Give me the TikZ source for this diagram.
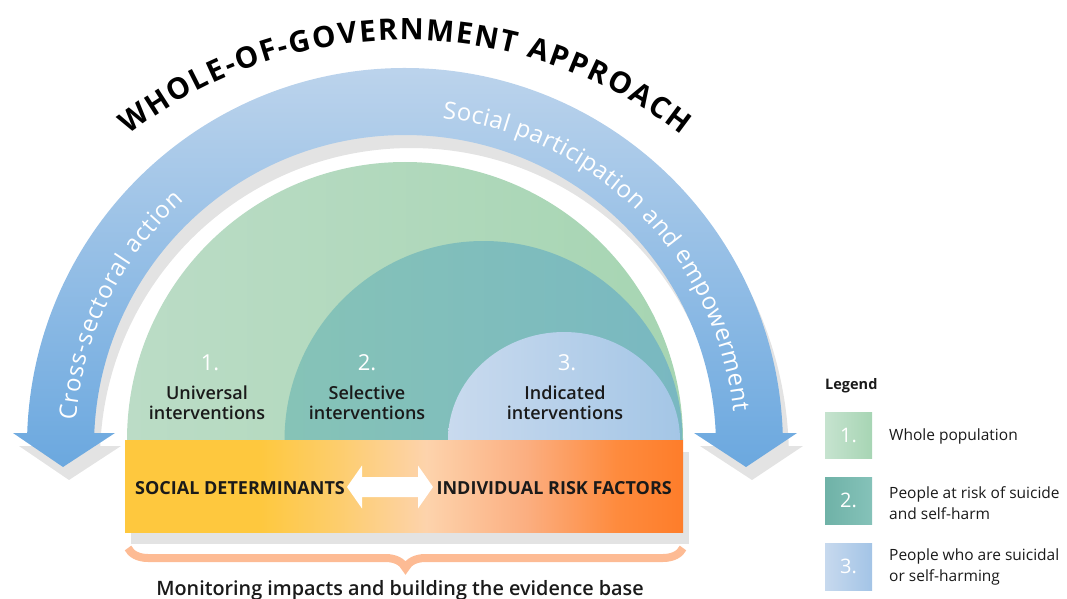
\documentclass[tikz,border=0pt]{standalone}
\usepackage{fontspec}
\setmainfont{Open Sans}
\IfFontExistsTF{Open Sans SemiBold}{\newfontfamily\semib{Open Sans SemiBold}}{%
  \IfFontExistsTF{Open Sans Semibold}{\newfontfamily\semib{Open Sans Semibold}}{%
    \newfontfamily\semib{Open Sans}[FakeBold=1.2]}}
\usetikzlibrary{decorations.text,decorations.pathreplacing,shadings}

\definecolor{bandtop}{HTML}{BDD4EC}
\definecolor{bandbot}{HTML}{6BA8DF}
\definecolor{shadowgray}{HTML}{E3E3E3}
\definecolor{greenL}{HTML}{BBDCC6}
\definecolor{greenR}{HTML}{A6D5B2}
\definecolor{tealL}{HTML}{86C3B7}
\definecolor{tealR}{HTML}{79B8C1}
\definecolor{blueL}{HTML}{C9DAEE}
\definecolor{blueR}{HTML}{A4C6E6}
\definecolor{barY}{HTML}{FEC83E}
\definecolor{barYb}{HTML}{FDCD6C}
\definecolor{barP}{HTML}{FDD3AC}
\definecolor{barOa}{HTML}{FBAE80}
\definecolor{barOb}{HTML}{FE8B3E}
\definecolor{barOc}{HTML}{FE7D2A}
\definecolor{bracecol}{HTML}{FDBB94}
\definecolor{boxAL}{HTML}{C6E3CF}
\definecolor{boxAR}{HTML}{A7D5B4}
\definecolor{boxBL}{HTML}{6FB2A7}
\definecolor{boxBR}{HTML}{85C2B9}
\definecolor{boxCL}{HTML}{C7D9EE}
\definecolor{boxCR}{HTML}{A3C4E6}
\definecolor{txt}{HTML}{1A1A1A}

\pgfdeclarehorizontalshading{barshade}{100bp}{color(0bp)=(barY); color(25bp)=(barY); color(37bp)=(barY); color(44bp)=(barYb); color(52bp)=(barP); color(61bp)=(barOa); color(69bp)=(barOb); color(75bp)=(barOc); color(100bp)=(barOc)}

\newcommand\titlefont{\bfseries\fontsize{29.5}{32}\selectfont}
\newcommand\bandfont{\fontsize{24}{28}\selectfont}

\tikzset{
  numlbl/.style={text=white, font=\fontsize{22}{24}\selectfont, inner sep=0pt},
  domelbl/.style={text=txt, font=\semib\fontsize{18}{20}\selectfont, align=center, inner sep=0pt},
  barlbl/.style={text=txt, font=\bfseries\fontsize{18}{20}\selectfont, inner sep=0pt},
  legnum/.style={text=white, font=\fontsize{20}{22}\selectfont, inner sep=0pt},
  legtxt/.style={text=txt, font=\fontsize{15.5}{21}\selectfont, align=left, anchor=west, inner sep=0pt},
}

\begin{document}
\begin{tikzpicture}[x=1pt,y=1pt]
\useasboundingbox (0,0) rectangle (1067,598);

% band shadow
\fill[shadowgray, shift={(6,-13)}] (63,131) -- (13,165) -- (27.2,165)
  arc[start angle=178.03, end angle=1.97, radius=378pt] -- (797,165) -- (746,131) -- (694,165) -- (715.7,165)
  arc[start angle=2.4, end angle=177.6, radius=311pt] -- (115,165) -- cycle;
% band
\shade[top color=bandtop, bottom color=bandbot] (63,131) -- (13,165) -- (27.2,165)
  arc[start angle=178.03, end angle=1.97, radius=378pt] -- (797,165) -- (746,131) -- (694,165) -- (715.7,165)
  arc[start angle=2.4, end angle=177.6, radius=311pt] -- (115,165) -- cycle;

% title
\path[decorate, decoration={text along path, text align=fit to path,
  text={|\titlefont|WHOLE-OF-GOVERNMENT APPROACH}}]
  ([shift={(128:449pt)}]405,109) arc[start angle=128, end angle=52, radius=449pt];

% band texts
\path[decorate, decoration={text along path, text align=fit to path, text color=white,
  text={|\bandfont|Cross-sectoral action}}]
  ([shift={(175.5:330pt)}]405,152) arc[start angle=175.5, end angle=132, radius=330pt];
\path[decorate, decoration={text along path, text align=fit to path, text color=white,
  text={|\bandfont|Social participation and empowerment}}]
  ([shift={(83.5:330pt)}]405,152) arc[start angle=83.5, end angle=6, radius=330pt];

% domes
\shade[left color=greenL, right color=greenR] (127,158) arc[start angle=180, end angle=0, radius=278pt] -- cycle;
\shade[left color=tealL, right color=tealR] (284.5,158) arc[start angle=180, end angle=0, radius=199pt] -- cycle;
\shade[left color=blueL, right color=blueR] (448,158) arc[start angle=180, end angle=0, x radius=116pt, y radius=108pt] -- cycle;

\node[numlbl] (n1) at (210,235) {1.};
\node[numlbl] (n2) at (367,235) {2.};
\node[numlbl] (n3) at (567,235) {3.};
\node[domelbl] (d1) at (207,195) {Universal\\interventions};
\node[domelbl] (d2) at (367,195) {Selective\\interventions};
\node[domelbl] (d3) at (565,195) {Indicated\\interventions};

% bar
\fill[shadowgray] (131,54) rectangle (689,146);
\shade[shading=barshade] (125,66) rectangle (683,158);
\node[barlbl, anchor=west] (sd) at (135,110) {SOCIAL DETERMINANTS};
\node[barlbl, anchor=east] (ir) at (672,110) {INDIVIDUAL RISK FACTORS};
\fill[white] (347,111) -- (362,132.5) -- (362,121) -- (418,121) -- (418,132.5) -- (433,111)
  -- (418,89.5) -- (418,101) -- (362,101) -- (362,89.5) -- cycle;

% brace
\draw[bracecol, line width=8pt, decorate, decoration={brace, amplitude=20pt}] (683,50) -- (128,50);
\node[text=txt, font=\semib\fontsize{19.8}{22}\selectfont, anchor=base, inner sep=0pt] (mon) at (400,3)
  {Monitoring impacts and building the evidence base};

% legend
\node[text=txt, font=\bfseries\fontsize{14.5}{16}\selectfont, anchor=west, inner sep=0pt] (leg) at (825,212) {Legend};
\shade[left color=boxAL, right color=boxAR] (825,140) rectangle (872,186);
\shade[left color=boxBL, right color=boxBR] (825,74) rectangle (872,121);
\shade[left color=boxCL, right color=boxCR] (825,8) rectangle (872,55);
\node[legnum] (l1) at (848.5,163) {1.};
\node[legnum] (l2) at (848.5,97.5) {2.};
\node[legnum] (l3) at (848.5,31.5) {3.};
\node[legtxt] (t1) at (889,162) {Whole population};
\node[legtxt] (t2) at (889,94.5) {People at risk of suicide\\and self-harm};
\node[legtxt] (t3) at (889,31.5) {People who are suicidal\\or self-harming};
\end{tikzpicture}
\end{document}
